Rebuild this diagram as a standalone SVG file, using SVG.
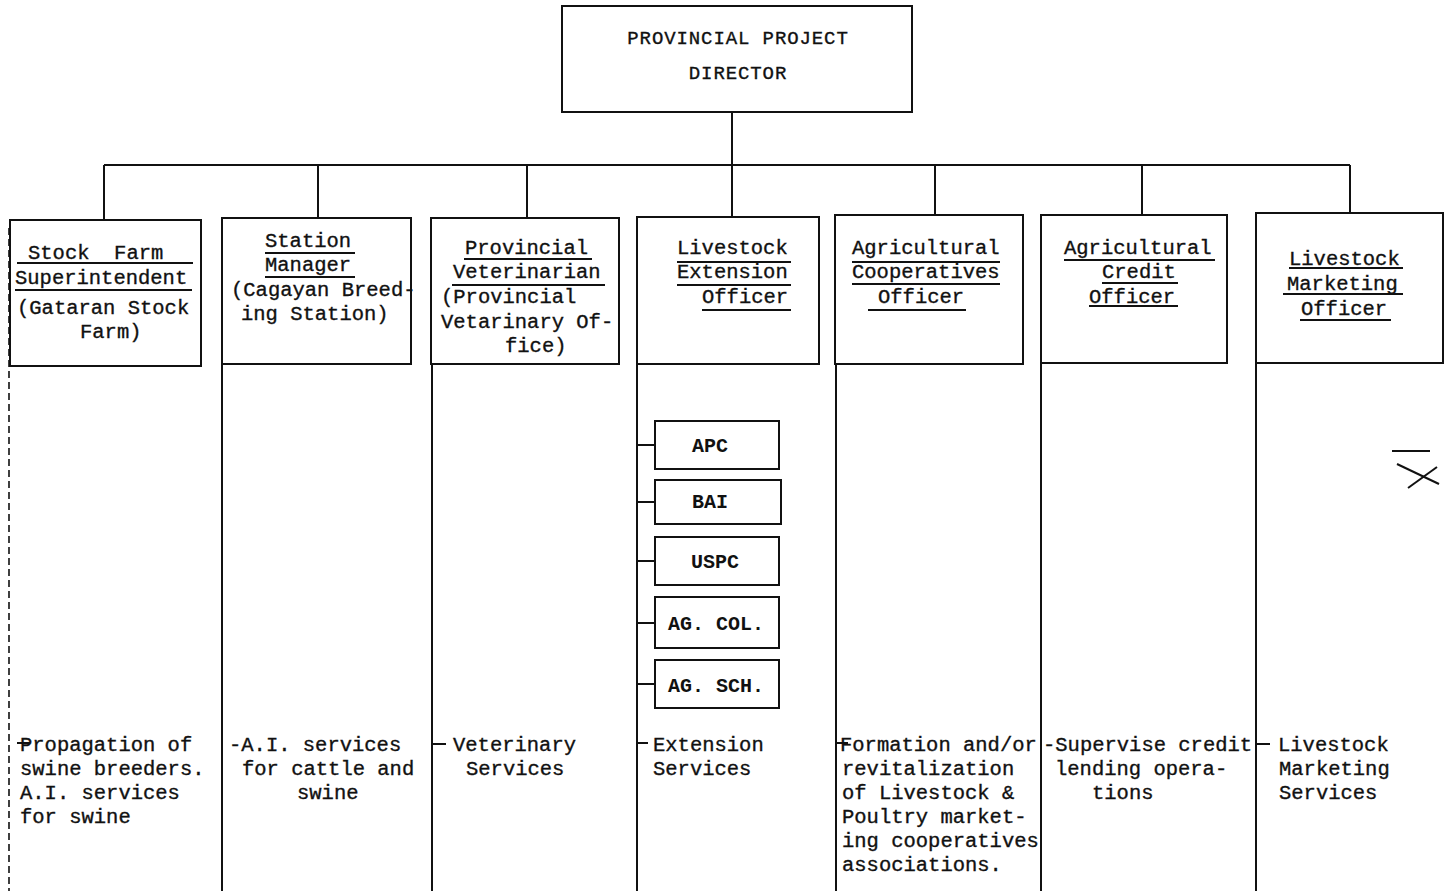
<svg xmlns="http://www.w3.org/2000/svg" width="1446" height="891" viewBox="0 0 1446 891">
<style>
text{font-family:"Liberation Mono","Courier New",monospace;font-size:20.5px;fill:#111;stroke:#111;stroke-width:0.35}
.t{font-size:19px;letter-spacing:0.9px}
.s{font-size:20px;font-weight:bold;stroke-width:0}
.box{fill:none;stroke:#111;stroke-width:2}
.ln{fill:none;stroke:#111;stroke-width:2}
.ul{fill:none;stroke:#111;stroke-width:1.8}
.dash{fill:none;stroke:#111;stroke-width:1.6;stroke-dasharray:7 4}
</style>
<rect width="1446" height="891" fill="#fff"/>
<g id="connectors">
<line class="ln" x1="732" y1="112" x2="732" y2="217"/>
<line class="ln" x1="104" y1="165" x2="1350" y2="165"/>
<line class="ln" x1="104" y1="165" x2="104" y2="220"/>
<line class="ln" x1="318" y1="165" x2="318" y2="218"/>
<line class="ln" x1="527" y1="165" x2="527" y2="218"/>
<line class="ln" x1="935" y1="165" x2="935" y2="215"/>
<line class="ln" x1="1142" y1="165" x2="1142" y2="215"/>
<line class="ln" x1="1350" y1="165" x2="1350" y2="213"/>
<line class="dash" x1="9" y1="228" x2="9" y2="891"/>
<line class="ln" x1="222" y1="364" x2="222" y2="891"/>
<line class="ln" x1="432" y1="364" x2="432" y2="891"/>
<line class="ln" x1="637" y1="364" x2="637" y2="891"/>
<line class="ln" x1="836" y1="364" x2="836" y2="891"/>
<line class="ln" x1="1041" y1="363" x2="1041" y2="891"/>
<line class="ln" x1="1256" y1="363" x2="1256" y2="891"/>
<line class="ln" x1="637" y1="445" x2="655" y2="445"/>
<line class="ln" x1="637" y1="502" x2="655" y2="502"/>
<line class="ln" x1="637" y1="561" x2="655" y2="561"/>
<line class="ln" x1="637" y1="623" x2="655" y2="623"/>
<line class="ln" x1="637" y1="684" x2="655" y2="684"/>
<line class="ln" x1="17" y1="743" x2="30" y2="743"/>
<line class="ln" x1="637" y1="743" x2="648" y2="743"/>
<line class="ln" x1="836" y1="743" x2="848" y2="743"/>
<line class="ln" x1="432" y1="744" x2="446" y2="744"/>
<line class="ln" x1="1256" y1="744" x2="1270" y2="744"/>
</g>
<g id="director">
<rect class="box" x="562" y="6" width="350" height="106"/>
<text class="t" x="738" y="44" text-anchor="middle">PROVINCIAL PROJECT</text>
<text class="t" x="738" y="79" text-anchor="middle">DIRECTOR</text>
</g>
<g id="stock-farm">
<rect class="box" x="10" y="220" width="191" height="146"/>
<text x="28" y="259" xml:space="preserve">Stock  Farm</text>
<line class="ul" x1="17" y1="263" x2="193" y2="263"/>
<text x="15" y="284">Superintendent</text>
<line class="ul" x1="15" y1="290" x2="192" y2="290"/>
<text x="17" y="314">(Gataran Stock</text>
<text x="80" y="338">Farm)</text>
<text x="20" y="751">Propagation of</text>
<text x="20" y="775">swine breeders.</text>
<text x="20" y="799">A.I. services</text>
<text x="20" y="823">for swine</text>
</g>
<g id="station-manager">
<rect class="box" x="222" y="218" width="189" height="146"/>
<text x="265" y="247">Station</text>
<line class="ul" x1="265" y1="253" x2="355" y2="253"/>
<text x="265" y="271">Manager</text>
<line class="ul" x1="265" y1="277" x2="355" y2="277"/>
<text x="231" y="296">(Cagayan Breed-</text>
<text x="241" y="320">ing Station)</text>
<text x="229" y="751">-A.I. services</text>
<text x="242" y="775">for cattle and</text>
<text x="297" y="799">swine</text>
</g>
<g id="provincial-veterinarian">
<rect class="box" x="431" y="218" width="188" height="146"/>
<text x="465" y="254">Provincial</text>
<line class="ul" x1="464" y1="259" x2="592" y2="259"/>
<text x="453" y="278">Veterinarian</text>
<line class="ul" x1="452" y1="285" x2="605" y2="285"/>
<text x="441" y="303">(Provincial</text>
<text x="441" y="328">Vetarinary Of-</text>
<text x="505" y="352">fice)</text>
<text x="453" y="751">Veterinary</text>
<text x="466" y="775">Services</text>
</g>
<g id="livestock-extension">
<rect class="box" x="637" y="217" width="182" height="147"/>
<text x="677" y="254">Livestock</text>
<line class="ul" x1="677" y1="262" x2="791" y2="262"/>
<text x="677" y="278">Extension</text>
<line class="ul" x1="677" y1="285" x2="791" y2="285"/>
<text x="702" y="303">Officer</text>
<line class="ul" x1="702" y1="310" x2="791" y2="310"/>
<text x="653" y="751">Extension</text>
<text x="653" y="775">Services</text>
</g>
<g id="apc">
<rect class="box" x="655" y="421" width="124" height="48"/>
<text class="s" x="710" y="452" text-anchor="middle">APC</text>
</g>
<g id="bai">
<rect class="box" x="655" y="480" width="126" height="44"/>
<text class="s" x="710" y="508" text-anchor="middle">BAI</text>
</g>
<g id="uspc">
<rect class="box" x="655" y="537" width="124" height="48"/>
<text class="s" x="715" y="568" text-anchor="middle">USPC</text>
</g>
<g id="ag-col">
<rect class="box" x="655" y="597" width="124" height="51"/>
<text class="s" x="716" y="630" text-anchor="middle">AG. COL.</text>
</g>
<g id="ag-sch">
<rect class="box" x="655" y="660" width="124" height="48"/>
<text class="s" x="716" y="692" text-anchor="middle">AG. SCH.</text>
</g>
<g id="cooperatives-officer">
<rect class="box" x="835" y="215" width="188" height="149"/>
<text x="852" y="254">Agricultural</text>
<line class="ul" x1="852" y1="262" x2="1000" y2="262"/>
<text x="852" y="278">Cooperatives</text>
<line class="ul" x1="852" y1="284" x2="1000" y2="284"/>
<text x="878" y="303">Officer</text>
<line class="ul" x1="868" y1="310" x2="966" y2="310"/>
<text x="840" y="751">Formation and/or</text>
<text x="842" y="775">revitalization</text>
<text x="842" y="799">of Livestock &amp;</text>
<text x="842" y="823">Poultry market-</text>
<text x="842" y="847">ing cooperatives</text>
<text x="842" y="871">associations.</text>
</g>
<g id="credit-officer">
<rect class="box" x="1041" y="215" width="186" height="148"/>
<text x="1064" y="254">Agricultural</text>
<line class="ul" x1="1064" y1="260" x2="1215" y2="260"/>
<text x="1102" y="278">Credit</text>
<line class="ul" x1="1102" y1="283" x2="1178" y2="283"/>
<text x="1089" y="303">Officer</text>
<line class="ul" x1="1089" y1="306" x2="1178" y2="306"/>
<text x="1043" y="751">-Supervise credit</text>
<text x="1055" y="775">lending opera-</text>
<text x="1092" y="799">tions</text>
</g>
<g id="marketing-officer">
<rect class="box" x="1256" y="213" width="187" height="150"/>
<text x="1289" y="265">Livestock</text>
<line class="ul" x1="1289" y1="268" x2="1403" y2="268"/>
<text x="1287" y="290">Marketing</text>
<line class="ul" x1="1283" y1="294" x2="1403" y2="294"/>
<text x="1301" y="315">Officer</text>
<line class="ul" x1="1300" y1="320" x2="1391" y2="320"/>
<text x="1278" y="751">Livestock</text>
<text x="1279" y="775">Marketing</text>
<text x="1279" y="799">Services</text>
</g>
<g id="stray-mark">
<line class="ln" x1="1392" y1="451" x2="1430" y2="451"/>
<line class="ln" x1="1397" y1="464" x2="1439" y2="484"/>
<line class="ln" x1="1408" y1="488" x2="1437" y2="467"/>
</g>
</svg>
